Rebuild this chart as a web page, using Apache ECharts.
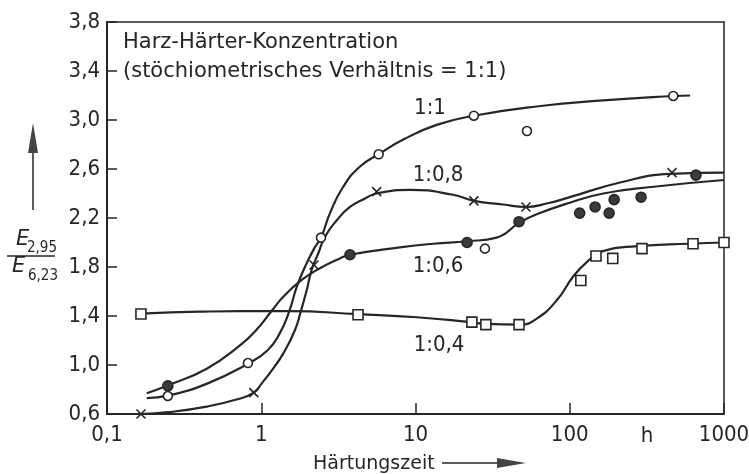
<!DOCTYPE html>
<html style="height: 100%">
<head>
    <meta charset="utf-8">
</head>
<body style="height: 100%; margin: 0; background: #fff">
<div id="container" style="width: 749px; height: 474px"></div>
<script type="text/javascript" src="https://cdn.jsdelivr.net/npm/echarts@6/dist/echarts.min.js"></script>
<script type="text/javascript">
// Härtungszeit in h (log axis), ratio E2,95 / E6,23

// traced curves
var curve1_1 = [[0.181, 0.73], [0.248, 0.75], [0.45, 0.85], [0.82, 1.01], [1.1, 1.12], [1.32, 1.26], [1.52, 1.44],
    [1.7, 1.64], [1.92, 1.8], [2.2, 1.95], [2.44, 2.04], [2.79, 2.24], [3.4, 2.455], [4.37, 2.62], [5.77, 2.72],
    [8.34, 2.84], [13.7, 2.96], [23.9, 3.035], [61, 3.11], [165, 3.16], [469, 3.196], [603, 3.2]];
var curve1_08 = [[0.166, 0.6], [0.25, 0.615], [0.443, 0.66], [0.7, 0.72], [0.895, 0.774], [1.007, 0.85], [1.2, 0.975],
    [1.39, 1.095], [1.655, 1.286], [1.81, 1.443], [1.97, 1.61], [2.12, 1.775], [2.34, 1.91], [2.59, 2.047],
    [3.08, 2.18], [3.76, 2.29], [4.71, 2.36], [5.6, 2.4], [9.2, 2.43], [17.5, 2.39], [23.9, 2.34], [37, 2.31],
    [52, 2.29], [72, 2.32], [100, 2.37], [212, 2.49], [450, 2.56], [1000, 2.57]];
var curve1_06 = [[0.181, 0.77], [0.245, 0.83], [0.443, 0.97], [0.728, 1.16], [0.934, 1.29], [1.17, 1.443],
    [1.39, 1.557], [1.83, 1.694], [2.4, 1.79], [3.23, 1.87], [3.76, 1.9], [7.9, 1.96], [13, 1.99], [21.6, 2.01],
    [33.5, 2.04], [47, 2.16], [61, 2.23], [100, 2.325], [165, 2.4], [350, 2.455], [1000, 2.51]];
var curve1_04 = [[0.166, 1.42], [0.4, 1.435], [0.73, 1.44], [1.5, 1.44], [4.24, 1.415], [10.2, 1.39], [22, 1.352],
    [28.6, 1.335], [47.8, 1.33], [61.4, 1.38], [82.6, 1.53], [105, 1.72], [129, 1.84], [164, 1.93], [273, 1.97],
    [600, 1.99], [1000, 2.0]];

// measured points
var pts1_1 = [[0.248, 0.747], [0.82, 1.016], [2.44, 2.04], [5.77, 2.72], [23.9, 3.035], [52.8, 2.91], [469, 3.196], [28.2, 1.95]];
var pts1_08 = [[0.166, 0.6], [0.895, 0.774], [2.2, 1.816], [5.6, 2.415], [23.9, 2.34], [52, 2.29], [460, 2.57]];
var pts1_06 = [[0.248, 0.83], [3.76, 1.9], [21.6, 2.0], [46.9, 2.17], [116, 2.24], [146, 2.29], [180, 2.24],
    [194, 2.35], [290, 2.37], [658, 2.55]];
var pts1_04 = [[0.166, 1.416], [4.24, 1.41], [23.2, 1.35], [28.6, 1.33], [46.9, 1.33], [118, 1.69], [148, 1.89],
    [190, 1.87], [294, 1.95], [630, 1.99], [1000, 2.0]];

var xTickValues = [0.1, 1, 10, 100, 1000];
var xTickLabels = ['0,1', '1', '10', '100', '1000'];

var INK = '#262626';
var narrow = '"Liberation Sans Narrow", "DejaVu Sans Condensed", sans-serif';
var plain = '"DejaVu Sans", sans-serif';

var dom = document.getElementById('container');
var myChart = echarts.init(dom);

function curve(data) {
    return {
        type: 'line', data: data, smooth: 0.5, symbol: 'none', silent: true, z: 2,
        lineStyle: {color: INK, width: 2.2}
    };
}

function marks(data, symbol, size, fill) {
    return {
        type: 'scatter', data: data, symbol: symbol, symbolSize: size, z: 5, silent: true,
        itemStyle: {color: fill, borderColor: INK, borderWidth: 1.6, opacity: 1}
    };
}

function txt(text, x, y, size, family, align, extra) {
    var style = {text: text, x: 0, y: 0, fill: INK, fontSize: size, fontFamily: family,
        align: align || 'left', verticalAlign: 'middle'};
    for (var k in extra) style[k] = extra[k];
    return {type: 'text', x: x, y: y, style: style, z: 10};
}

var option = {
    animation: false,
    backgroundColor: '#fff',
    grid: {left: 107, right: 25, top: 22, bottom: 60, show: true, borderColor: INK, borderWidth: 1.5,
        outerBoundsMode: 'none'},
    xAxis: {
        type: 'log', logBase: 10, min: 0.1, max: 1000,
        axisLine: {lineStyle: {color: INK, width: 2}},
        axisTick: {inside: true, length: 11, lineStyle: {color: INK, width: 1.5}},
        splitLine: {show: false},
        minorTick: {show: false},
        axisLabel: {
            margin: 10, color: INK, fontSize: 22, fontFamily: narrow,
            formatter: function (v) {
                for (var i = 0; i < xTickValues.length; i++) {
                    if (Math.abs(Math.log10(v) - Math.log10(xTickValues[i])) < 1e-6) return xTickLabels[i];
                }
                return '';
            }
        }
    },
    yAxis: {
        type: 'value', min: 0.6, max: 3.8, interval: 0.4,
        axisLine: {show: true, lineStyle: {color: INK, width: 2}},
        axisTick: {show: true, inside: true, length: 10, lineStyle: {color: INK, width: 1.5}},
        splitLine: {show: false},
        axisLabel: {
            margin: 7, color: INK, fontSize: 22, fontFamily: narrow,
            formatter: function (v) { return v.toFixed(1).replace('.', ','); }
        }
    },
    series: [
        curve(curve1_1), curve(curve1_08), curve(curve1_06), curve(curve1_04),
        marks(pts1_1, 'circle', 9, '#fff'),
        marks(pts1_08, 'path://M0,0L10,10M0,10L10,0', 9, 'transparent'),
        marks(pts1_06, 'circle', 10, '#3a3a3a'),
        marks(pts1_04, 'rect', 10, '#fff')
    ],
    graphic: [
        txt('Harz-Härter-Konzentration', 123, 43, 21, plain),
        txt('(stöchiometrisches Verhältnis = 1:1)', 123, 72, 21, plain),
        txt('1:1', 430, 108, 22, narrow, 'center'),
        txt('1:0,8', 438, 175, 22, narrow, 'center'),
        txt('1:0,6', 438, 266, 22, narrow, 'center'),
        txt('1:0,4', 439, 345, 22, narrow, 'center'),
        txt('h', 647, 436, 22, narrow, 'center'),
        txt('Härtungszeit', 313, 464, 19, plain),
        // y axis quantity as a fraction
        txt('E', 16, 240, 21, plain, 'left', {fontStyle: 'italic'}),
        txt('2,95', 27, 248, 15, narrow, 'left'),
        txt('E', 12, 267, 21, plain, 'left', {fontStyle: 'italic'}),
        txt('6,23', 28, 276, 15, narrow, 'left'),
        {type: 'line', shape: {x1: 7, y1: 256, x2: 55, y2: 256}, style: {stroke: INK, lineWidth: 1.5}},
        // arrows
        {type: 'line', shape: {x1: 33, y1: 210, x2: 33, y2: 150}, style: {stroke: INK, lineWidth: 1.5}},
        {type: 'polygon', shape: {points: [[33, 123], [28, 153], [38, 153]]}, style: {fill: '#444'}},
        {type: 'line', shape: {x1: 442, y1: 463, x2: 500, y2: 463}, style: {stroke: INK, lineWidth: 1.5}},
        {type: 'polygon', shape: {points: [[497, 458], [497, 468], [526, 463]]}, style: {fill: '#444'}}
    ]
};

myChart.setOption(option, true);
</script>
</body>
</html>
